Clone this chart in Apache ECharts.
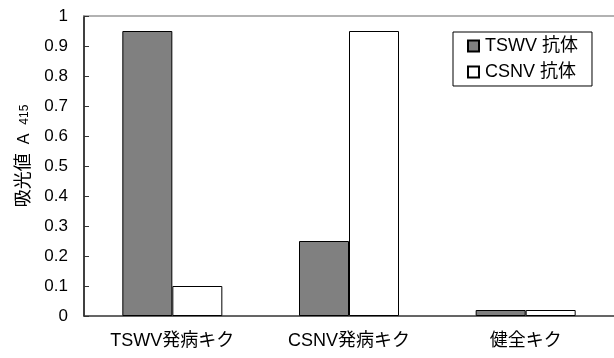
<!DOCTYPE html>
<html>
<head>
<meta charset="utf-8">
<script src="https://cdn.jsdelivr.net/npm/echarts@6/dist/echarts.min.js"></script>
<style>
  html, body { margin: 0; padding: 0; background: #fff; }
  #chart { width: 614px; height: 358px; }
</style>
</head>
<body>
<div id="chart"></div>
<script>
const categories = ['TSWV発病キク', 'CSNV発病キク', '健全キク']
const seriesNames = ['TSWV 抗体', 'CSNV 抗体']
const tswvValues = [0.95, 0.25, 0.02]
const csnvValues = [0.1, 0.95, 0.02]

const font = '"Liberation Sans", Arial, "Noto Sans CJK JP", sans-serif'

const chart = echarts.init(document.getElementById('chart'))
chart.setOption({
  animation: false,
  textStyle: { fontFamily: font },
  grid: { left: 84, right: 0, top: 16, bottom: 42 },
  legend: {
    left: 453,
    top: 32,
    orient: 'vertical',
    icon: 'rect',
    itemWidth: 11,
    itemHeight: 11,
    itemGap: 8,
    padding: [5, 14, 5, 14],
    borderColor: '#000',
    borderWidth: 1,
    backgroundColor: '#fff',
    textStyle: { fontSize: 18, color: '#000', fontFamily: font, padding: [0, 0, 0, 1] },
    data: seriesNames
  },
  xAxis: [
    {
      type: 'category',
      data: categories,
      axisLine: { lineStyle: { color: '#333', width: 1.5 } },
      axisTick: { inside: true, length: 5, lineStyle: { color: '#333' } },
      axisLabel: { fontSize: 18, color: '#000', margin: 16, fontFamily: font }
    },
    {
      type: 'category',
      position: 'top',
      data: categories,
      axisLine: { lineStyle: { color: '#999', width: 1.5 } },
      axisTick: { show: false },
      axisLabel: { show: false }
    }
  ],
  yAxis: {
    type: 'value',
    min: 0,
    max: 1,
    interval: 0.1,
    name: '{p| }{a|吸光値}{g| }{i|A}{g| }{s|415}',
    nameLocation: 'middle',
    nameGap: 46,
    nameRotate: 90,
    nameTextStyle: {
      rich: {
        p: { width: 20 },
        g: { width: 9 },
        a: { fontSize: 18, color: '#000', fontFamily: font },
        i: { fontSize: 16, color: '#000', fontFamily: font },
        s: { fontSize: 12, color: '#000', fontFamily: font }
      }
    },
    axisLine: { show: true, lineStyle: { color: '#000', width: 1.5 } },
    axisTick: { show: true, inside: true, length: 5, lineStyle: { color: '#333' } },
    axisLabel: { fontSize: 17, color: '#000', margin: 16, fontFamily: font },
    splitLine: { show: false }
  },
  series: [
    {
      name: seriesNames[0],
      type: 'bar',
      data: tswvValues,
      barWidth: 50,
      barGap: '0%',
      itemStyle: { color: '#808080', borderColor: '#000', borderWidth: 1 }
    },
    {
      name: seriesNames[1],
      type: 'bar',
      data: csnvValues,
      barWidth: 50,
      barGap: '0%',
      itemStyle: { color: '#fff', borderColor: '#000', borderWidth: 1 }
    }
  ]
})
</script>
</body>
</html>
